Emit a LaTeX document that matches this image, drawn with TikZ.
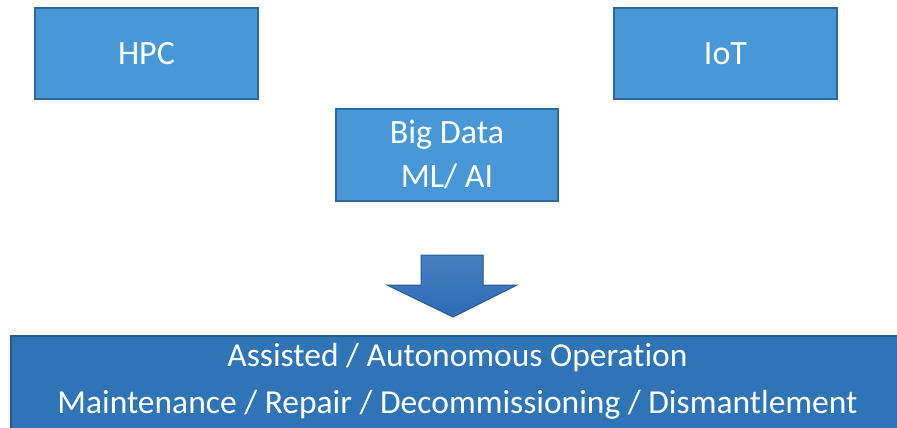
\documentclass[tikz,border=0pt]{standalone}
\usepackage{fontspec}
\setmainfont[Ligatures=NoCommon]{Carlito}
\definecolor{boxfill}{RGB}{72,152,216}
\definecolor{boxedge}{RGB}{48,104,156}
\definecolor{barfill}{RGB}{47,116,182}
\definecolor{baredge}{RGB}{40,90,140}
\definecolor{arrowfill}{RGB}{46,108,182}
\definecolor{arrowedge}{RGB}{40,92,150}
\begin{document}
\begin{tikzpicture}[x=1pt,y=1pt,
  smallbox/.style={draw=boxedge, line width=1.5pt, fill=boxfill, text=white,
    minimum width=223pt, minimum height=91pt, inner sep=0pt, align=center,
    font=\fontsize{34}{44}\selectfont},
  bigbar/.style={draw=baredge, line width=1.5pt, fill=barfill,
    minimum width=900pt, minimum height=100pt, inner sep=0pt},
  bartext/.style={text=white, align=center, font=\fontsize{33.5}{47}\selectfont}]
\useasboundingbox (0,0) rectangle (897,-428);
\begin{scope}
\clip (0,0) rectangle (897,-428);
\node[smallbox] (hpc) at (146.5,-53.5) {HPC};
\node[smallbox] (iot) at (725.5,-53.5) {IoT};
\node[smallbox, minimum width=222pt, minimum height=92pt] (big) at (447,-155) {Big Data\\ML/ AI};
\node[bigbar, anchor=north west] (ops) at (10,-335) {};
\node[bartext] (opstext) at (457.5,-381.5)
  {Assisted / Autonomous Operation\\Maintenance / Repair / Decommissioning / Dismantlement};
\fill[top color=arrowfill!88!white, bottom color=arrowfill]
  (421,-255) -- (483,-255) -- (483,-285) -- (517,-285) -- (453,-317)
  -- (387,-285) -- (421,-285) -- cycle;
\draw[arrowedge, line width=1pt]
  (421,-255) -- (483,-255) -- (483,-285) -- (517,-285) -- (453,-317)
  -- (387,-285) -- (421,-285) -- cycle;
\end{scope}
\end{tikzpicture}
\end{document}
